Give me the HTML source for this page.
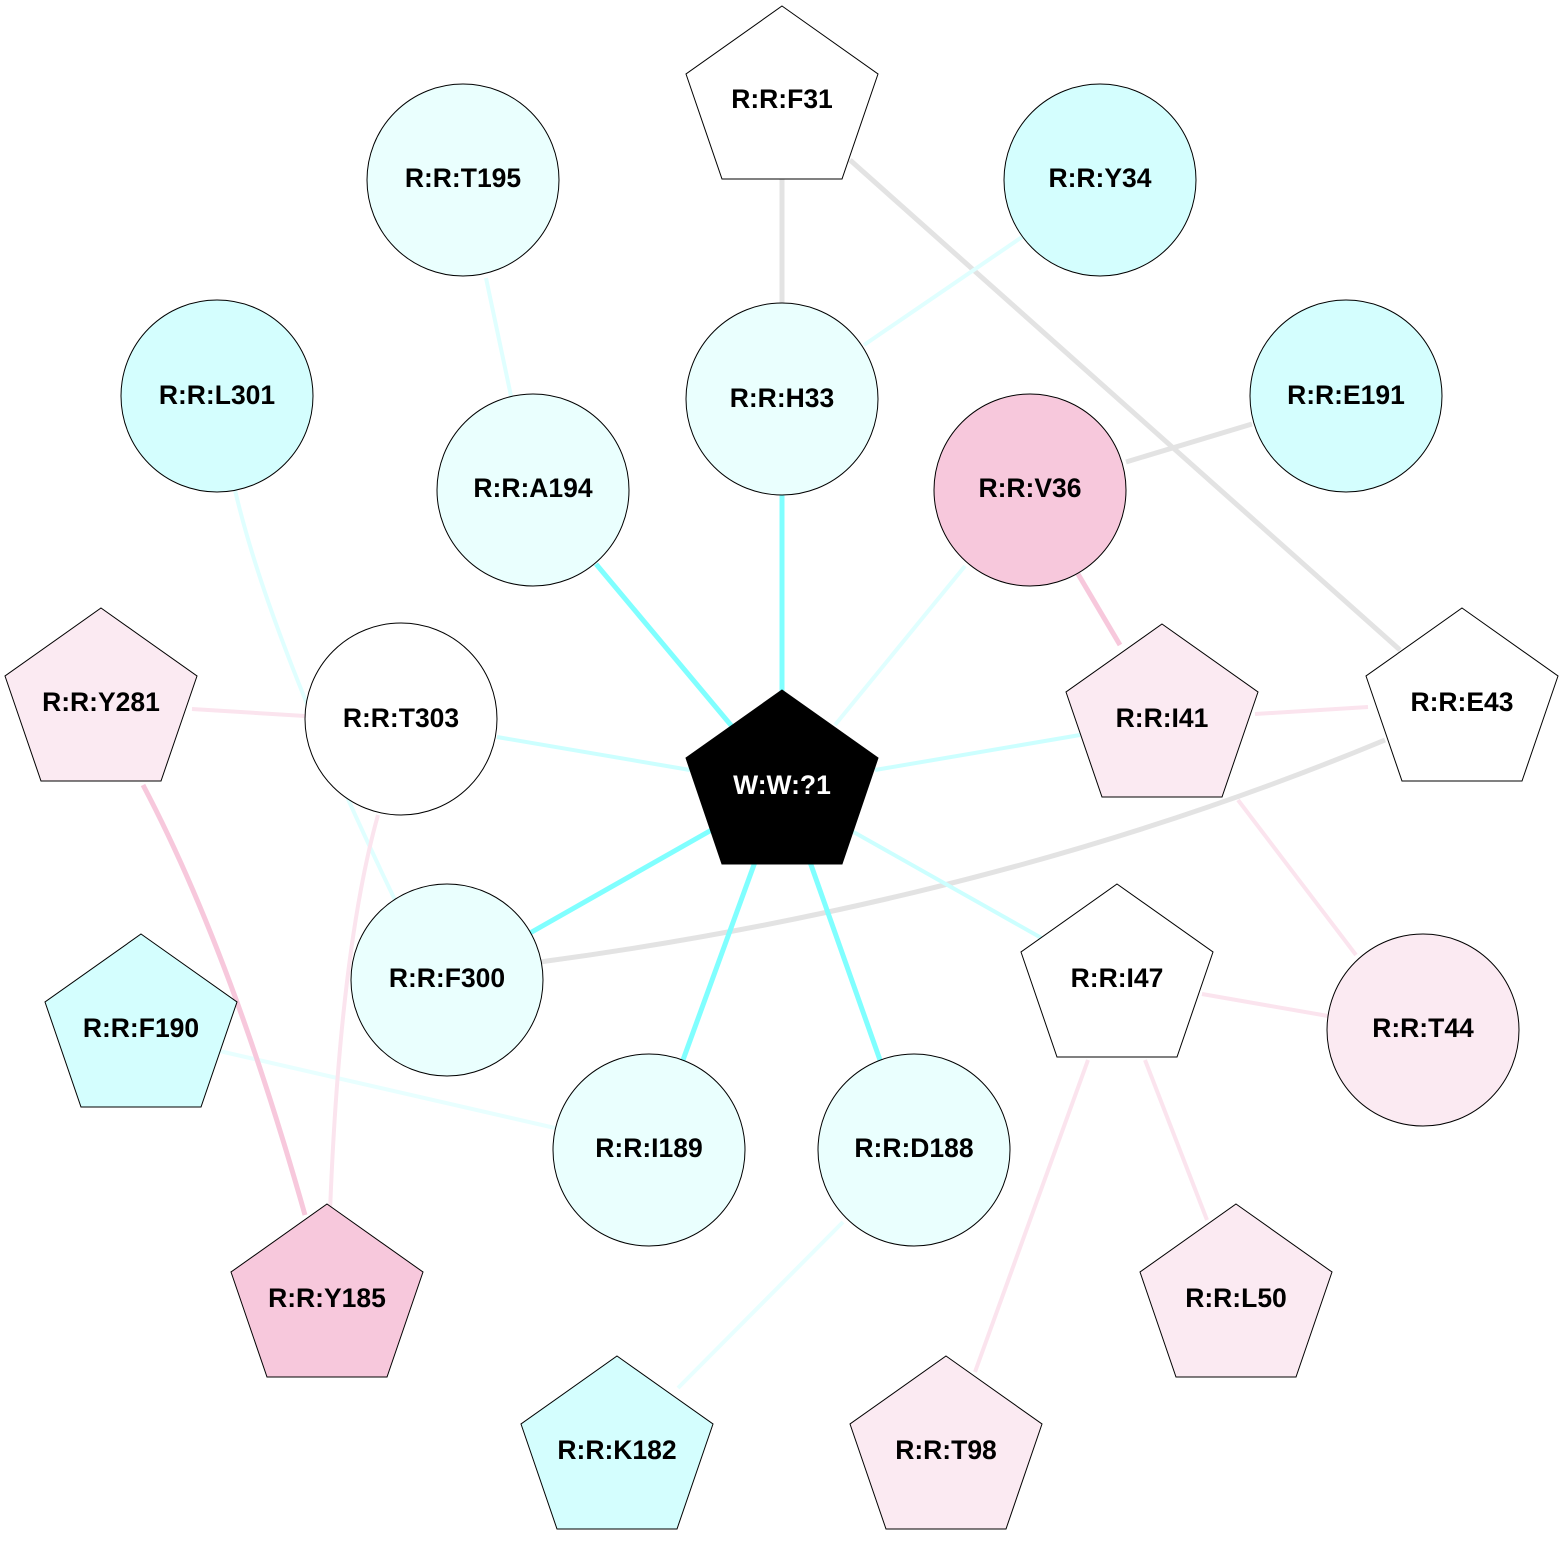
<!DOCTYPE html>
<html><head><meta charset="utf-8"><style>html,body{margin:0;padding:0;background:#fff}svg{display:block}text{font-family:"Liberation Sans",Arial,sans-serif;font-weight:bold;font-size:26.5px;text-anchor:middle;dominant-baseline:central}</style></head>
<body>
<svg width="1564" height="1554" viewBox="0 0 1564 1554" xmlns="http://www.w3.org/2000/svg">
<g fill="none" stroke-linecap="butt">
<line x1="782" y1="179" x2="782" y2="303" stroke="#e3e3e3" stroke-width="5"/>
<line x1="850" y1="160" x2="1400" y2="650" stroke="#e3e3e3" stroke-width="5"/>
<path d="M1385 740 Q1000 900 540 962" stroke="#e3e3e3" stroke-width="5"/>
<line x1="1126" y1="462" x2="1252" y2="424" stroke="#e3e3e3" stroke-width="5"/>
<line x1="782" y1="495" x2="782" y2="700" stroke="#80ffff" stroke-width="5"/>
<line x1="596" y1="564" x2="735" y2="730" stroke="#80ffff" stroke-width="5"/>
<line x1="530" y1="933" x2="715" y2="828" stroke="#80ffff" stroke-width="5"/>
<line x1="683" y1="1060" x2="755" y2="862" stroke="#80ffff" stroke-width="5"/>
<line x1="880" y1="1060" x2="810" y2="862" stroke="#80ffff" stroke-width="5"/>
<line x1="965" y1="566" x2="835" y2="725" stroke="#e0ffff" stroke-width="4"/>
<line x1="497" y1="737" x2="690" y2="770" stroke="#ccffff" stroke-width="4"/>
<line x1="1080" y1="735" x2="875" y2="770" stroke="#ccffff" stroke-width="4"/>
<line x1="1045" y1="940" x2="850" y2="830" stroke="#ccffff" stroke-width="4"/>
<line x1="486" y1="278" x2="511" y2="396" stroke="#e0ffff" stroke-width="4"/>
<line x1="1022" y1="237" x2="864" y2="345" stroke="#e0ffff" stroke-width="4"/>
<path d="M235 490 Q270 640 395 900" stroke="#e0ffff" stroke-width="4"/>
<line x1="215" y1="1050" x2="555" y2="1128" stroke="#e8ffff" stroke-width="4"/>
<line x1="843" y1="1222" x2="678" y2="1388" stroke="#e8ffff" stroke-width="4"/>
<line x1="1078" y1="574" x2="1120" y2="645" stroke="#f7c8dc" stroke-width="5"/>
<path d="M143 785 Q230 950 305 1215" stroke="#f7c8dc" stroke-width="5"/>
<line x1="1255" y1="714" x2="1368" y2="707" stroke="#fbe4ee" stroke-width="4"/>
<line x1="1238" y1="800" x2="1356" y2="955" stroke="#fbe4ee" stroke-width="4"/>
<line x1="1202" y1="994" x2="1328" y2="1016" stroke="#fbe4ee" stroke-width="4"/>
<line x1="1145" y1="1060" x2="1207" y2="1220" stroke="#fbe4ee" stroke-width="4"/>
<line x1="1088" y1="1060" x2="975" y2="1372" stroke="#fbe4ee" stroke-width="4"/>
<line x1="192" y1="709" x2="305" y2="716" stroke="#fbe4ee" stroke-width="4"/>
<path d="M378 815 Q340 950 330 1212" stroke="#fbe4ee" stroke-width="4"/>
</g>
<g stroke="#000" stroke-width="1">
<circle cx="463" cy="180" r="96" fill="#eafffe"/>
<circle cx="1100" cy="180" r="96" fill="#d4fefe"/>
<circle cx="217" cy="396" r="96" fill="#d4fefe"/>
<circle cx="782" cy="399" r="96" fill="#eafffe"/>
<circle cx="1346" cy="396" r="96" fill="#d4fefe"/>
<circle cx="533" cy="490" r="96" fill="#eafffe"/>
<circle cx="1030" cy="490" r="96" fill="#f7c8dc"/>
<circle cx="401" cy="719" r="96" fill="#ffffff"/>
<circle cx="447" cy="980" r="96" fill="#eafffe"/>
<circle cx="1423" cy="1030" r="96" fill="#fbeaf2"/>
<circle cx="649" cy="1150" r="96" fill="#eafffe"/>
<circle cx="914" cy="1150" r="96" fill="#eafffe"/>
<polygon points="782,6 878,74 842,179 722,179 686,74" fill="#fff"/>
<polygon points="101,608 197,676 161,781 41,781 5,676" fill="#fbeaf2"/>
<polygon points="782,690 878,758 842,864 722,864 686,758" fill="#000"/>
<polygon points="1162,624 1258,692 1222,797 1102,797 1066,692" fill="#fbeaf2"/>
<polygon points="1462,608 1558,676 1522,781 1402,781 1366,676" fill="#fff"/>
<polygon points="1117,884 1213,952 1177,1057 1057,1057 1021,952" fill="#fff"/>
<polygon points="141,934 237,1002 201,1107 81,1107 45,1002" fill="#d4fefe"/>
<polygon points="327,1204 423,1272 387,1377 267,1377 231,1272" fill="#f7c8dc"/>
<polygon points="1236,1204 1332,1272 1296,1377 1176,1377 1140,1272" fill="#fbeaf2"/>
<polygon points="617,1356 713,1424 677,1529 557,1529 521,1424" fill="#d4fefe"/>
<polygon points="946,1356 1042,1424 1006,1529 886,1529 850,1424" fill="#fbeaf2"/>
</g>
<g fill="#000">
<text x="463" y="178">R:R:T195</text>
<text x="1100" y="178">R:R:Y34</text>
<text x="217" y="395">R:R:L301</text>
<text x="782" y="398">R:R:H33</text>
<text x="1346" y="395">R:R:E191</text>
<text x="533" y="488">R:R:A194</text>
<text x="1030" y="488">R:R:V36</text>
<text x="401" y="718">R:R:T303</text>
<text x="447" y="978">R:R:F300</text>
<text x="1423" y="1028">R:R:T44</text>
<text x="649" y="1148">R:R:I189</text>
<text x="914" y="1148">R:R:D188</text>
<text x="782" y="99">R:R:F31</text>
<text x="101" y="702">R:R:Y281</text>
<text x="782" y="785" fill="#fff">W:W:?1</text>
<text x="1162" y="718">R:R:I41</text>
<text x="1462" y="702">R:R:E43</text>
<text x="1117" y="978">R:R:I47</text>
<text x="141" y="1028">R:R:F190</text>
<text x="327" y="1298">R:R:Y185</text>
<text x="1236" y="1298">R:R:L50</text>
<text x="617" y="1450">R:R:K182</text>
<text x="946" y="1450">R:R:T98</text>
</g>
</svg>
</body></html>
